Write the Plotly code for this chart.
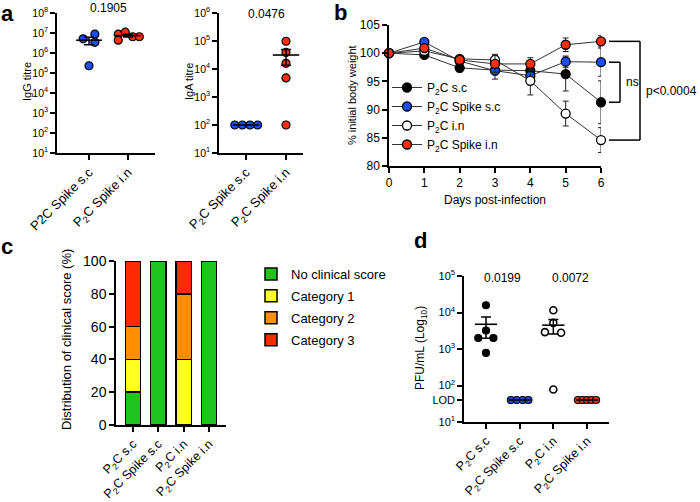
import numpy as np
import plotly.graph_objects as go

FONT = "Liberation Sans, Arial, Helvetica, sans-serif"
W, H = 700, 502

# ---------------- data ----------------
# (a) antibody titres
igg_groups = ["P2C Spike s.c", "P<sub>2</sub>C Spike i.n"]
iga_groups = ["P<sub>2</sub>C Spike s.c", "P<sub>2</sub>C Spike i.n"]
igg_spike_sc = [5.1e6, 8.7e6, 3.4e6, 2.3e5]
igg_spike_in = [8.7e6, 1.1e7, 4.4e6, 6.5e6, 6.5e6]
iga_spike_sc = [100, 100, 100, 100]
iga_spike_in = [9.8e4, 3.9e4, 1.6e4, 4.8e3, 100]
igg_pvalue = "0.1905"
iga_pvalue = "0.0476"
titre_cutoff = 100

# (b) body weight
days = [0, 1, 2, 3, 4, 5, 6]
weight_names = ["P<sub>2</sub>C s.c", "P<sub>2</sub>C Spike s.c",
                "P<sub>2</sub>C i.n", "P<sub>2</sub>C Spike i.n"]
weight_p2c_sc = [100, 99.7, 97.4, 97.0, 96.9, 96.3, 91.3]
weight_spike_sc = [100, 102.0, 98.6, 96.9, 96.0, 98.5, 98.4]
weight_p2c_in = [100, 100.4, 99.0, 98.8, 95.1, 89.3, 84.6]
weight_spike_in = [100, 100.9, 98.8, 98.1, 98.1, 101.5, 102.1]
err_p2c_sc = [0, 0.4, 0.7, 0.8, 0.8, 3.0, 3.8]
err_spike_sc = [0, 0.3, 0.4, 1.5, 1.0, 1.0, 2.5]
err_p2c_in = [0, 0.5, 0.4, 1.0, 2.5, 2.2, 2.2]
err_spike_in = [0, 0.5, 0.6, 1.5, 1.1, 1.2, 1.0]
weight_ns = "ns"
weight_pvalue = "p<0.0004"

# (c) clinical score distribution (%)
clin_groups = ["P<sub>2</sub>C s.c", "P<sub>2</sub>C Spike s.c",
               "P<sub>2</sub>C i.n", "P<sub>2</sub>C Spike i.n"]
score_names = ["No clinical score", "Category 1", "Category 2", "Category 3"]
score_none = [20, 100, 0, 100]
score_cat1 = [20, 0, 40, 0]
score_cat2 = [20, 0, 40, 0]
score_cat3 = [40, 0, 20, 0]

# (d) viral titre
pfu_groups = clin_groups
pfu_p2c_sc = [15800, 2000, 2000, 3200, 780]
pfu_spike_sc = [40, 40, 40, 40]
pfu_p2c_in = [11500, 5200, 2900, 2800, 78]
pfu_spike_in = [40, 40, 40, 40, 40]
pfu_lod = 40
pfu_pvalues = ["0.0199", "0.0072"]

# ---------------- style / layout ----------------
BLUE = "#1a4df2"
RED = "#ff2f0d"
GREEN = "#1fc41f"
YELLOW = "#ffff1f"
ORANGE = "#ff8f00"
CRED = "#ff2a00"

# horizontal swarm offsets (category units), layout only
jit_igg_sc = [-0.15, 0.15, 0.15, 0.0]
jit_igg_in = [-0.25, -0.07, -0.25, 0.12, 0.29]
jit_iga_sc = [-0.28, -0.09, 0.1, 0.29]
jit_iga_in = [0, 0, 0, 0, 0]
jit_pfu_p2c_sc = [0, -0.23, 0.22, 0, 0]
jit_pfu_spike_sc = [-0.26, -0.09, 0.09, 0.26]
jit_pfu_p2c_in = [0, 0, -0.25, 0.23, 0]
jit_pfu_spike_in = [-0.27, -0.135, 0, 0.135, 0.27]


def xd(a, b):
    return [a / W, b / W]


def yd(top, bottom):
    return [1 - bottom / H, 1 - top / H]


def cat_range(left, right, first_tick, last_tick, n):
    scale = (last_tick - first_tick) / (n - 1)
    return [-(first_tick - left) / scale, (n - 1) + (right - last_tick) / scale]


fig = go.Figure()


def axis_common(size):
    return dict(showline=True, linecolor="black", linewidth=1.5, ticks="outside",
                ticklen=5, tickwidth=1.5, tickcolor="black", showgrid=False,
                zeroline=False, automargin=False,
                tickfont=dict(family=FONT, size=size, color="black"))


def dot_group(xa, ya, pos, vals, jit, color, open_marker=False, size=8):
    xs = [pos + j for j in jit]
    fig.add_trace(go.Scatter(
        x=xs, y=vals, mode="markers", xaxis=xa, yaxis=ya, showlegend=False,
        cliponaxis=False,
        marker=dict(size=size, color="white" if open_marker else color,
                    line=dict(color="black", width=1.2 if not open_marker else 1.6))))
    v = np.array(vals, dtype=float)
    m = v.mean()
    sem = v.std(ddof=1) / np.sqrt(len(v))
    fig.add_trace(go.Scatter(
        x=[pos - 0.33, pos + 0.33], y=[m, m], mode="lines", xaxis=xa, yaxis=ya,
        showlegend=False, line=dict(color="black", width=1.6), cliponaxis=False))
    if sem > 0:
        fig.add_trace(go.Scatter(
            x=[pos], y=[m], mode="markers", xaxis=xa, yaxis=ya, showlegend=False,
            marker=dict(size=1, opacity=0),
            error_y=dict(type="data", array=[sem], arrayminus=[sem], width=5,
                         thickness=1.5, color="black")))


# ---- panel a: IgG ----
dot_group("x", "y", 0, igg_spike_sc, jit_igg_sc, BLUE)
dot_group("x", "y", 1, igg_spike_in, jit_igg_in, RED)
# ---- panel a: IgA ----
dot_group("x2", "y2", 0, iga_spike_sc, jit_iga_sc, BLUE)
dot_group("x2", "y2", 1, iga_spike_in, jit_iga_in, RED)

# ---- panel b ----
b_series = [
    (weight_p2c_sc, err_p2c_sc, "black", "black"),
    (weight_spike_sc, err_spike_sc, BLUE, "black"),
    (weight_p2c_in, err_p2c_in, "white", "black"),
    (weight_spike_in, err_spike_in, RED, "black"),
]
for name, (vals, err, fc, lc) in zip(weight_names, b_series):
    fig.add_trace(go.Scatter(
        x=days, y=vals, name=name, mode="lines+markers", xaxis="x3", yaxis="y3",
        legend="legend", cliponaxis=False,
        line=dict(color="#333333", width=1),
        marker=dict(size=9, color=fc, line=dict(color=lc, width=1.3)),
        error_y=dict(type="data", array=err, width=3, thickness=1, color="#222222")))

# ---- panel c ----
for name, vals, col in zip(score_names, [score_none, score_cat1, score_cat2, score_cat3],
                           [GREEN, YELLOW, ORANGE, CRED]):
    fig.add_trace(go.Bar(
        x=list(range(len(clin_groups))), y=vals, name=name, xaxis="x4", yaxis="y4",
        legend="legend2", legendgroup=name, width=0.6,
        marker=dict(color=col, line=dict(color="black", width=1.5))))

# ---- panel d ----
dot_group("x5", "y5", 0, pfu_p2c_sc, jit_pfu_p2c_sc, "black", size=7)
dot_group("x5", "y5", 1, pfu_spike_sc, jit_pfu_spike_sc, BLUE, size=7)
dot_group("x5", "y5", 2, pfu_p2c_in, jit_pfu_p2c_in, "black", open_marker=True, size=7)
dot_group("x5", "y5", 3, pfu_spike_in, jit_pfu_spike_in, RED, size=7)


def log_ticks(lo, hi):
    vals = [10 ** k for k in range(lo, hi + 1)]
    txt = ["10<sup>%d</sup>" % k for k in range(lo, hi + 1)]
    return vals, txt


igg_tv, igg_tt = log_ticks(1, 8)
iga_tv, iga_tt = log_ticks(1, 6)
pfu_tv, pfu_tt = log_ticks(1, 5)
pfu_tv = pfu_tv[:1] + [pfu_lod] + pfu_tv[1:]
pfu_tt = pfu_tt[:1] + ["LOD"] + pfu_tt[1:]

layout = dict(
    width=W, height=H, margin=dict(l=0, r=0, t=0, b=0, autoexpand=False),
    paper_bgcolor="white", plot_bgcolor="white",
    font=dict(family=FONT, color="black"),
    barmode="stack", bargap=0.4,
)

# a IgG
layout["xaxis"] = dict(axis_common(13), domain=xd(57, 155), anchor="y",
                       range=cat_range(57, 155, 89, 128, 2), tickvals=[0, 1],
                       ticktext=igg_groups, tickangle=-45)
layout["yaxis"] = dict(axis_common(10.5), domain=yd(13, 153), anchor="x", type="log",
                       range=[1, 8], tickvals=igg_tv, ticktext=igg_tt)
# a IgA
layout["xaxis2"] = dict(axis_common(13), domain=xd(219, 303), anchor="y2",
                        range=cat_range(219, 303, 246, 286, 2), tickvals=[0, 1],
                        ticktext=iga_groups, tickangle=-45)
layout["yaxis2"] = dict(axis_common(10.5), domain=yd(13, 153), anchor="x2", type="log",
                        range=[1, 6], tickvals=iga_tv, ticktext=iga_tt)
# b
layout["xaxis3"] = dict(axis_common(12), domain=xd(389, 601), anchor="y3",
                        range=[0, 6], tickvals=days,
                        title=dict(text="Days post-infection", standoff=6,
                                   font=dict(family=FONT, size=12)))
layout["yaxis3"] = dict(axis_common(12), domain=yd(25, 166), anchor="x3",
                        range=[80, 105], tickvals=[80, 85, 90, 95, 100, 105])
# c
layout["xaxis4"] = dict(axis_common(12.5), domain=xd(116, 226), anchor="y4",
                        range=cat_range(116, 226, 133, 209, 4), tickvals=[0, 1, 2, 3],
                        ticktext=clin_groups, tickangle=-45)
layout["yaxis4"] = dict(axis_common(14), domain=yd(261, 425), anchor="x4",
                        range=[0, 100], tickvals=[0, 20, 40, 60, 80, 100])
# d
layout["xaxis5"] = dict(axis_common(12.5), domain=xd(464, 609), anchor="y5",
                        range=cat_range(464, 609, 486, 587, 4), tickvals=[0, 1, 2, 3],
                        ticktext=pfu_groups, tickangle=-45)
layout["yaxis5"] = dict(axis_common(11), domain=yd(276, 422), anchor="x5", type="log",
                        range=[1, 5], tickvals=pfu_tv, ticktext=pfu_tt)

layout["legend"] = dict(x=387 / W, y=1 - 73 / H, xanchor="left", yanchor="top",
                        bgcolor="rgba(0,0,0,0)", font=dict(family=FONT, size=12),
                        itemwidth=30, tracegroupgap=0)
layout["legend2"] = dict(x=251 / W, y=1 - 259 / H, xanchor="left", yanchor="top",
                         bgcolor="rgba(0,0,0,0)", font=dict(family=FONT, size=13),
                         traceorder="grouped", tracegroupgap=2)

fig.update_layout(**layout)

shapes = []
ann = []


def hline_dotted(xref, yref, yval):
    shapes.append(dict(type="line", xref=xref + " domain", yref=yref, x0=0, x1=1,
                       y0=np.log10(yval), y1=np.log10(yval),
                       line=dict(color="black", width=1.2, dash="dot")))


hline_dotted("x", "y", titre_cutoff)
hline_dotted("x2", "y2", titre_cutoff)
hline_dotted("x5", "y5", pfu_lod)


def pbracket(xref, yref, x0, x1, ylog, text, size=12, yshift=1):
    shapes.append(dict(type="line", xref=xref, yref=yref, x0=x0, x1=x1, y0=ylog, y1=ylog,
                       line=dict(color="black", width=1.5)))
    ann.append(dict(xref=xref, yref=yref, x=(x0 + x1) / 2, y=ylog, text=text,
                    showarrow=False, xanchor="center", yanchor="bottom", yshift=yshift,
                    font=dict(family=FONT, size=size, color="black")))


pbracket("x", "y", 0, 1, 7.86, igg_pvalue, yshift=-1)
pbracket("x2", "y2", 0, 1, 5.6, iga_pvalue)
pbracket("x5", "y5", 0, 1, 4.67, pfu_pvalues[0])
pbracket("x5", "y5", 2, 3, 4.67, pfu_pvalues[1])

# panel b significance brackets (at day-6 values)
def side_bracket(xa, xb, ytop, ybot):
    for (x0, y0, x1, y1) in [(xa, ytop, xb, ytop), (xb, ytop, xb, ybot), (xa, ybot, xb, ybot)]:
        shapes.append(dict(type="line", xref="paper", yref="y3", x0=x0 / W, x1=x1 / W,
                           y0=y0, y1=y1, line=dict(color="black", width=1.5)))


side_bracket(609, 620, weight_spike_sc[-1], weight_p2c_sc[-1])
side_bracket(609, 640, weight_spike_in[-1], weight_p2c_in[-1])
ann.append(dict(xref="paper", yref="y3", x=624 / W, xanchor="left", yanchor="middle",
                y=(weight_spike_sc[-1] + weight_p2c_sc[-1]) / 2, text=weight_ns,
                showarrow=False, font=dict(family=FONT, size=12)))
ann.append(dict(xref="paper", yref="y3", x=644 / W, xanchor="left", yanchor="middle",
                y=(weight_spike_in[-1] + weight_p2c_in[-1]) / 2, text=weight_pvalue,
                showarrow=False, font=dict(family=FONT, size=12)))

# axis titles
def ytitle(x, y, text, size):
    ann.append(dict(xref="paper", yref="paper", x=x / W, y=1 - y / H, text=text,
                    textangle=-90, showarrow=False, xanchor="center", yanchor="middle",
                    font=dict(family=FONT, size=size, color="black")))


ytitle(27, 82, "IgG titre", 11)
ytitle(189, 82, "IgA titre", 11)
ytitle(352, 95, "% initial body weight", 11)
ytitle(66, 340, "Distribution of clinical score (%)", 13)
ytitle(421, 348, "PFU/mL (Log<sub>10</sub>)", 12)

# panel letters
for letter, x, y in [("a", 7, 14), ("b", 340, 13), ("c", 7, 246), ("d", 420, 240)]:
    ann.append(dict(xref="paper", yref="paper", x=x / W, y=1 - y / H, text="<b>%s</b>" % letter,
                    showarrow=False, xanchor="center", yanchor="middle",
                    font=dict(family=FONT, size=22, color="black")))

fig.update_layout(shapes=shapes, annotations=ann)
fig.write_html("out.html", config={"displayModeBar": False},
               post_script="document.body.style.margin='0';")
